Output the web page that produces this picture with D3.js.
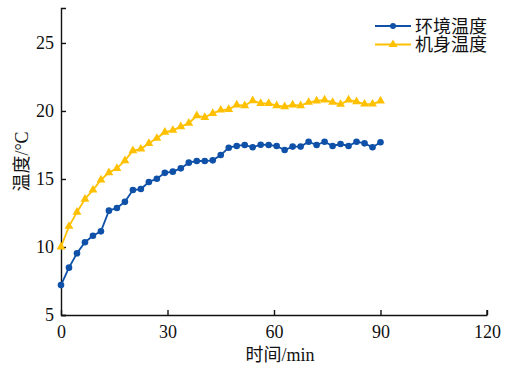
<!DOCTYPE html>
<html>
<head>
<meta charset="utf-8">
<script src="https://cdn.jsdelivr.net/npm/d3@7"></script>
<style>
  body { margin: 0; background: #fff; }
  svg text { font-family: "Liberation Serif", "Noto Sans CJK SC", serif; }
</style>
</head>
<body>
<svg id="chart"></svg>
<script>
// sampling times: 41 readings from 0 to 90 min
const times = d3.range(41).map(i => i * 2.25);

const ambient = [7.2, 8.48, 9.54, 10.35, 10.83, 11.15, 12.67, 12.87, 13.32, 14.19,
  14.26, 14.78, 15.02, 15.45, 15.54, 15.78, 16.2, 16.32, 16.32, 16.37,
  16.76, 17.3, 17.43, 17.5, 17.33, 17.52, 17.5, 17.42, 17.13, 17.38,
  17.38, 17.74, 17.5, 17.74, 17.43, 17.57, 17.43, 17.74, 17.62, 17.33, 17.7];

const body = [10.0, 11.52, 12.56, 13.52, 14.19, 14.93, 15.47, 15.78, 16.35, 17.08,
  17.2, 17.62, 17.99, 18.44, 18.58, 18.85, 19.1, 19.65, 19.53, 19.82,
  20.07, 20.12, 20.44, 20.39, 20.76, 20.56, 20.56, 20.39, 20.32, 20.44,
  20.39, 20.64, 20.74, 20.81, 20.64, 20.49, 20.81, 20.68, 20.51, 20.51, 20.74];

const seriesNames = ["环境温度", "机身温度"];
const xTicks = [0, 30, 60, 90, 120];
const yTicks = [5, 10, 15, 20, 25];

const width = 513, height = 366;
const margin = {top: 8, right: 26, bottom: 51, left: 61};
const colors = ["#0f51a8", "#ffc000"];

const svg = d3.select("#chart")
  .attr("width", width)
  .attr("height", height);

const x = d3.scaleLinear()
  .domain([0, 120])
  .range([margin.left, width - margin.right]);

const y = d3.scaleLinear()
  .domain([5, 27.57])
  .range([height - margin.bottom, margin.top]);

// axes, ticks point inward
const xAxis = g => g
  .attr("transform", `translate(0,${height - margin.bottom})`)
  .call(d3.axisBottom(x).tickValues(xTicks).tickSize(-5).tickSizeOuter(0).tickPadding(10))
  .call(g => g.selectAll("text").attr("font-size", 18).attr("fill", "#111"))
  .call(g => g.selectAll("line, path").attr("stroke", "#111").attr("stroke-width", 1.4));

const yAxis = g => g
  .attr("transform", `translate(${margin.left},0)`)
  .call(d3.axisLeft(y).tickValues(yTicks).tickSize(-5).tickSizeOuter(-5).tickPadding(7))
  .call(g => g.selectAll("text").attr("font-size", 18).attr("fill", "#111"))
  .call(g => g.selectAll("line, path").attr("stroke", "#111").attr("stroke-width", 1.4));

svg.append("g").call(xAxis);
svg.append("g").call(yAxis);

// the 120 end tick on x
svg.append("line")
  .attr("x1", x(120)).attr("x2", x(120))
  .attr("y1", y(5)).attr("y2", y(5) - 5)
  .attr("stroke", "#111").attr("stroke-width", 1.4);

// axis titles
svg.append("text")
  .attr("x", (x(0) + x(120)) / 2 + 6)
  .attr("y", 361)
  .attr("text-anchor", "middle")
  .attr("font-size", 18)
  .attr("fill", "#111")
  .text("时间/min");

svg.append("text")
  .attr("transform", `translate(28,${(y(5) + y(27.57)) / 2}) rotate(-90)`)
  .attr("text-anchor", "middle")
  .attr("font-size", 18)
  .attr("fill", "#111")
  .text("温度/°C");

const line = d3.line()
  .x((d, i) => x(times[i]))
  .y(d => y(d));

const tri = d3.symbol().type(d3.symbolTriangle).size(34);

[ambient, body].forEach((vals, k) => {
  svg.append("path")
    .datum(vals)
    .attr("fill", "none")
    .attr("stroke", colors[k])
    .attr("stroke-width", 1.8)
    .attr("d", line);

  const marks = svg.append("g").attr("fill", colors[k]);
  if (k === 0) {
    marks.selectAll("circle")
      .data(vals)
      .join("circle")
      .attr("cx", (d, i) => x(times[i]))
      .attr("cy", d => y(d))
      .attr("r", 3.3);
  } else {
    marks.selectAll("path")
      .data(vals)
      .join("path")
      .attr("transform", (d, i) => `translate(${x(times[i])},${y(d)})`)
      .attr("d", tri);
  }
});

// legend
const legend = svg.append("g");
seriesNames.forEach((name, k) => {
  const ly = 26 + k * 18.5;
  legend.append("line")
    .attr("x1", 375).attr("x2", 411)
    .attr("y1", ly).attr("y2", ly)
    .attr("stroke", colors[k]).attr("stroke-width", 1.8);
  if (k === 0) {
    legend.append("circle").attr("cx", 393).attr("cy", ly).attr("r", 3).attr("fill", colors[k]);
  } else {
    legend.append("path").attr("transform", `translate(393,${ly})`).attr("d", tri).attr("fill", colors[k]);
  }
  legend.append("text")
    .attr("x", 415)
    .attr("y", ly + 6.5)
    .attr("font-size", 18)
    .attr("fill", "#111")
    .text(name);
});
</script>
</body>
</html>
